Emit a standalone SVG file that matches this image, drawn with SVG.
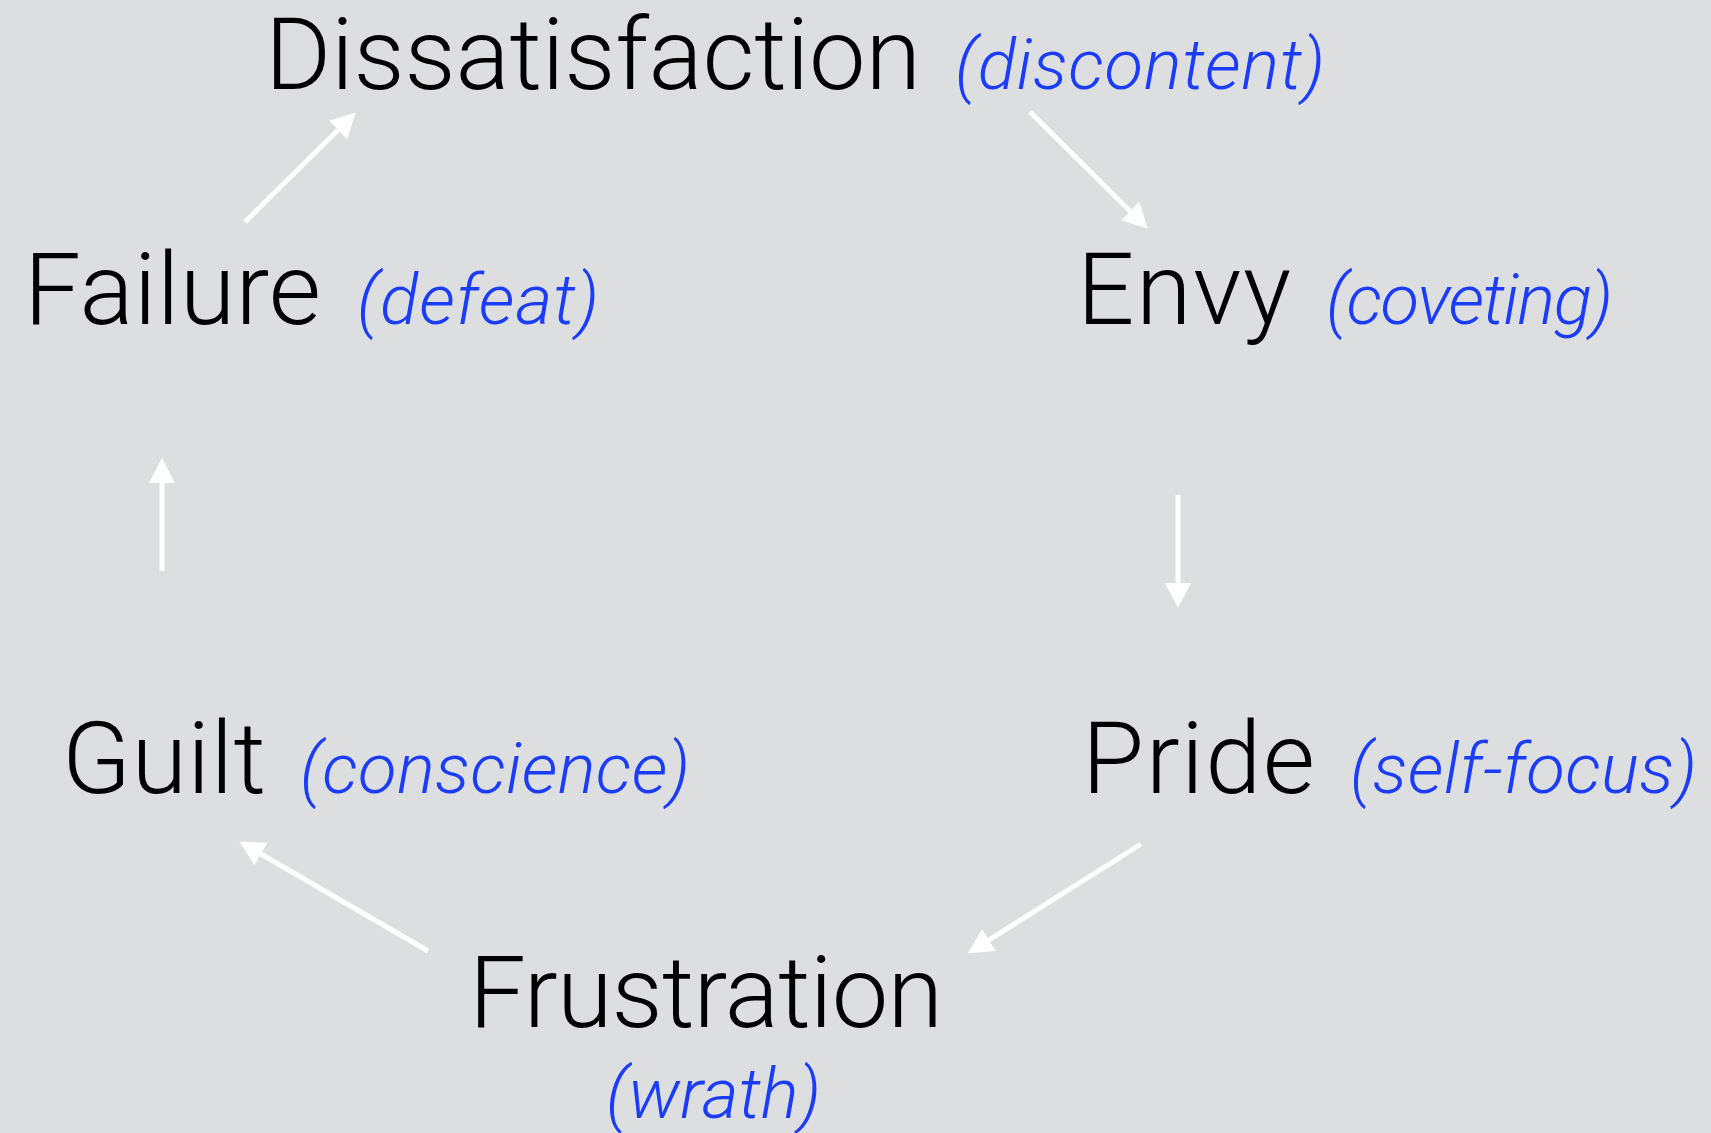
<svg xmlns="http://www.w3.org/2000/svg" width="1711" height="1133" viewBox="0 0 1711 1133">
<style>
.t{font-family:Roboto,"Liberation Sans",sans-serif;font-weight:300;font-size:101px;fill:#000}
.s{font-family:Roboto,"Liberation Sans",sans-serif;font-weight:300;font-style:italic;font-size:71px;fill:#1b3cf8}
.c{stroke:#fff;stroke-width:5;fill:none}
</style>
<defs>
<marker id="ah" markerUnits="userSpaceOnUse" markerWidth="26" markerHeight="28" refX="0" refY="13" orient="auto">
<path d="M0,0 L25,13 L0,26 Z" fill="#fff"/>
</marker>
</defs>
<rect width="1711" height="1133" fill="#dddee0"/>
<g id="dissatisfaction"><text class="t" x="265" y="89" textLength="656" lengthAdjust="spacing">Dissatisfaction</text><text class="s" x="955" y="89" textLength="370" lengthAdjust="spacing">(discontent)</text></g>
<g id="envy"><text class="t" x="1077" y="324" textLength="214" lengthAdjust="spacing">Envy</text><text class="s" x="1326" y="324" textLength="287" lengthAdjust="spacing">(coveting)</text></g>
<g id="pride"><text class="t" x="1082" y="793" textLength="233" lengthAdjust="spacing">Pride</text><text class="s" x="1350" y="793" textLength="347" lengthAdjust="spacing">(self-focus)</text></g>
<g id="frustration"><text class="t" x="469" y="1027" textLength="474" lengthAdjust="spacing">Frustration</text><text class="s" x="606" y="1118" textLength="215" lengthAdjust="spacing">(wrath)</text></g>
<g id="guilt"><text class="t" x="62" y="793" textLength="204" lengthAdjust="spacing">Guilt</text><text class="s" x="300" y="793" textLength="390" lengthAdjust="spacing">(conscience)</text></g>
<g id="failure"><text class="t" x="24" y="324" textLength="297" lengthAdjust="spacing">Failure</text><text class="s" x="357" y="324" textLength="242" lengthAdjust="spacing">(defeat)</text></g>
<g id="connectors">
<line class="c" x1="245" y1="222" x2="338" y2="130" marker-end="url(#ah)"/>
<line class="c" x1="1030" y1="112" x2="1130" y2="211" marker-end="url(#ah)"/>
<line class="c" x1="1178" y1="495" x2="1178" y2="583" marker-end="url(#ah)"/>
<line class="c" x1="1141" y1="844" x2="989" y2="940" marker-end="url(#ah)"/>
<line class="c" x1="428" y1="951" x2="261" y2="854" marker-end="url(#ah)"/>
<line class="c" x1="162" y1="571" x2="162" y2="483" marker-end="url(#ah)"/>
</g>
</svg>
